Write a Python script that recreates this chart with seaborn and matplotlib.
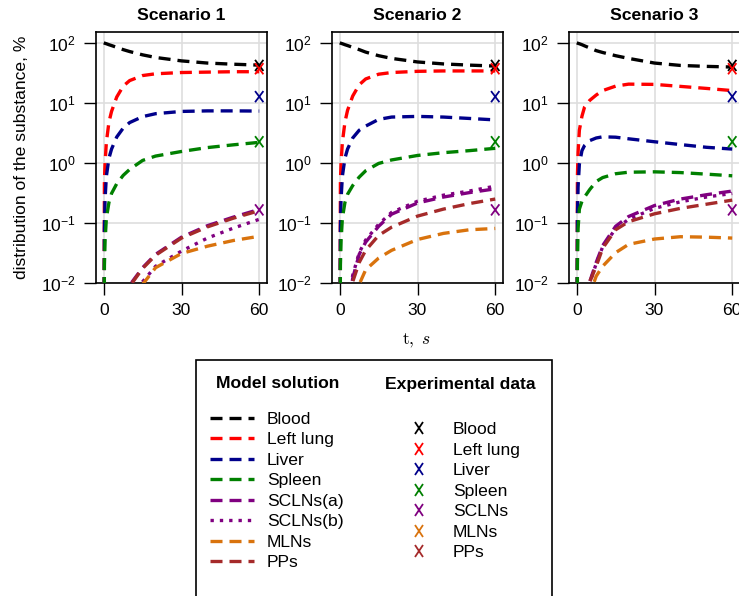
# Biodistribution of the substance: model vs experiment, three scenarios
# =====================================================================

import numpy as np
import pandas as pd
import seaborn as sns
import matplotlib.pyplot as plt
from matplotlib.lines import Line2D
from matplotlib.markers import MarkerStyle
from matplotlib.patches import Rectangle
from matplotlib.transforms import Affine2D
from matplotlib.ticker import FixedLocator, NullLocator


# =========================
# 1. Data
# =========================
SCENARIOS = ["Scenario 1", "Scenario 2", "Scenario 3"]
T = [0, 0.25, 0.5, 1, 2, 3, 5, 7.5, 10, 15, 20, 30, 40, 50, 60]

MODEL_ORGANS = ["Blood", "Left lung", "Liver", "Spleen",
                "SCLNs(a)", "SCLNs(b)", "MLNs", "PPs"]

# scenario 1
BLOOD_1 = [100, 99, 98, 96.5, 93, 90, 84, 77, 71.5, 63, 57, 50, 46, 44, 42.5]
LUNG_1 = [1e-4, 0.5, 1.0, 2.2, 4.8, 7.2, 12.5, 19, 23.5, 28.5, 30.5, 32, 32.5, 33, 33]
LIVER_1 = [1e-4, 0.08, 0.25, 0.6, 1.2, 1.7, 2.7, 3.8, 4.7, 5.9, 6.6, 7.2, 7.35, 7.35, 7.3]
SPLEEN_1 = [1e-4, 0.02, 0.05, 0.12, 0.22, 0.31, 0.45, 0.62, 0.78, 1.1, 1.3, 1.55, 1.8, 2.0, 2.2]
SCLNA_1 = [1e-7, 1e-7, 1e-7, 1e-6, 1e-5, 5e-5, 3e-4, 0.0018, 0.0092, 0.018, 0.030, 0.058, 0.09, 0.125, 0.168]
SCLNB_1 = [1e-7, 1e-7, 1e-7, 1e-6, 1e-5, 5e-5, 2e-4, 0.001, 0.005, 0.0105, 0.019, 0.034, 0.056, 0.082, 0.115]
MLNS_1 = [1e-7, 1e-7, 1e-7, 1e-6, 1e-5, 5e-5, 2e-4, 0.0008, 0.004, 0.0095, 0.018, 0.031, 0.041, 0.051, 0.06]
PPS_1 = [1e-7, 1e-7, 1e-7, 1e-6, 1e-5, 5e-5, 3e-4, 0.002, 0.0088, 0.0175, 0.029, 0.056, 0.086, 0.12, 0.16]

# scenario 2
BLOOD_2 = [100, 99, 98, 96.5, 93, 90, 84, 77, 70, 61, 55, 48, 44.5, 42.5, 41]
LUNG_2 = [1e-4, 0.5, 1.0, 2.2, 4.8, 7.5, 13, 20, 25, 30, 32, 33.5, 34, 34, 34]
LIVER_2 = [1e-4, 0.08, 0.25, 0.6, 1.2, 1.7, 2.6, 3.5, 4.1, 5.3, 5.8, 5.95, 5.8, 5.5, 5.2]
SPLEEN_2 = [1e-4, 0.02, 0.05, 0.12, 0.22, 0.3, 0.42, 0.58, 0.74, 0.98, 1.12, 1.33, 1.48, 1.6, 1.75]
SCLNA_2 = [1e-7, 1e-7, 1e-7, 1e-6, 2e-4, 0.0035, 0.012, 0.03, 0.048, 0.088, 0.14, 0.215, 0.27, 0.32, 0.37]
SCLNB_2 = [1e-7, 1e-7, 1e-7, 1e-6, 2e-4, 0.004, 0.0135, 0.032, 0.052, 0.095, 0.15, 0.23, 0.29, 0.34, 0.41]
MLNS_2 = [1e-7, 1e-7, 1e-7, 1e-6, 5e-5, 0.001, 0.004, 0.0095, 0.0166, 0.026, 0.035, 0.053, 0.067, 0.077, 0.081]
PPS_2 = [1e-7, 1e-7, 1e-7, 1e-6, 1.5e-4, 0.003, 0.0105, 0.022, 0.035, 0.062, 0.085, 0.13, 0.17, 0.21, 0.25]

# scenario 3
BLOOD_3 = [100, 99, 98, 96.5, 93, 89, 82, 74, 69, 61, 55, 46, 42, 40.5, 39.5]
LUNG_3 = [1e-4, 0.6, 1.5, 3.5, 6, 8.5, 11, 13.5, 16, 19, 20.5, 20.3, 18.8, 17.4, 16]
LIVER_3 = [1e-4, 0.12, 0.4, 0.95, 1.6, 1.95, 2.35, 2.6, 2.72, 2.68, 2.52, 2.25, 2.02, 1.82, 1.7]
SPLEEN_3 = [1e-4, 0.02, 0.08, 0.17, 0.23, 0.27, 0.36, 0.49, 0.57, 0.66, 0.7, 0.71, 0.69, 0.65, 0.61]
SCLNA_3 = [1e-7, 1e-7, 1e-7, 1e-6, 1.5e-4, 0.003, 0.0105, 0.022, 0.042, 0.088, 0.128, 0.195, 0.25, 0.295, 0.34]
SCLNB_3 = [1e-7, 1e-7, 1e-7, 1e-6, 1.5e-4, 0.003, 0.01, 0.021, 0.04, 0.08, 0.115, 0.175, 0.225, 0.27, 0.31]
MLNS_3 = [1e-7, 1e-7, 1e-7, 1e-6, 5e-5, 0.002, 0.0065, 0.013, 0.019, 0.032, 0.044, 0.054, 0.059, 0.058, 0.056]
PPS_3 = [1e-7, 1e-7, 1e-7, 1e-6, 1.5e-4, 0.003, 0.0105, 0.019, 0.038, 0.077, 0.105, 0.142, 0.175, 0.205, 0.24]

# experimental points (t = 60 s), MLNs and PPs not shown on the axes
EXP_ORGANS = ["Blood", "Left lung", "Liver", "Spleen", "SCLNs", "MLNs", "PPs"]
EXP_T = 60
EXP_VALUES = [42, 37, 12.7, 2.25, 0.165, np.nan, np.nan]

Y_TICKS = [1e-2, 1e-1, 1e0, 1e1, 1e2]
X_TICKS = [0, 30, 60]


# =========================
# 2. Styles
# =========================
COLORS = {
    "Blood": "#000000", "Left lung": "#ff0000", "Liver": "#00008b",
    "Spleen": "#008000", "SCLNs(a)": "#800080", "SCLNs(b)": "#800080",
    "SCLNs": "#800080", "MLNs": "#d9730d", "PPs": "#a52a2a",
}
DASH = (3.6, 2.1)
DOT = (1.0, 1.8)
DASHES = {o: (DOT if o == "SCLNs(b)" else DASH) for o in MODEL_ORGANS}
LW = 2.4
FS = 12.6
XMARK = MarkerStyle("x", transform=Affine2D().scale(0.75, 1.0))


def build_frames():
    per_scen = [
        [BLOOD_1, LUNG_1, LIVER_1, SPLEEN_1, SCLNA_1, SCLNB_1, MLNS_1, PPS_1],
        [BLOOD_2, LUNG_2, LIVER_2, SPLEEN_2, SCLNA_2, SCLNB_2, MLNS_2, PPS_2],
        [BLOOD_3, LUNG_3, LIVER_3, SPLEEN_3, SCLNA_3, SCLNB_3, MLNS_3, PPS_3],
    ]
    rows = []
    for scen, series in zip(SCENARIOS, per_scen):
        for organ, vals in zip(MODEL_ORGANS, series):
            for t, v in zip(T, vals):
                rows.append({"scenario": scen, "organ": organ, "t": t, "value": v})
    model = pd.DataFrame(rows)
    exp = pd.DataFrame({"organ": EXP_ORGANS, "t": EXP_T, "value": EXP_VALUES}).dropna()
    return model, exp


# =========================
# 3. Plot
# =========================
def main():
    sns.set_theme(style="ticks")
    plt.rcParams["font.family"] = ["Liberation Sans", "DejaVu Sans"]
    plt.rcParams["mathtext.fontset"] = "custom"
    plt.rcParams["mathtext.rm"] = "Liberation Sans"
    plt.rcParams["mathtext.it"] = "Liberation Sans:italic"
    plt.rcParams["mathtext.bf"] = "Liberation Sans:bold"
    plt.rcParams["text.color"] = "black"
    plt.rcParams["axes.labelcolor"] = "black"
    plt.rcParams["axes.titlecolor"] = "black"

    model, exp = build_frames()

    W, H = 739, 596
    fig = plt.figure(figsize=(W / 100, H / 100), dpi=100)

    lefts = [96, 332, 569]
    for i, (scen, left) in enumerate(zip(SCENARIOS, lefts)):
        ax = fig.add_axes([left / W, (H - 283) / H, 171 / W, 251 / H])
        ax.set_yscale("log")
        sns.lineplot(data=model[model["scenario"] == scen], x="t", y="value",
                     hue="organ", style="organ", hue_order=MODEL_ORGANS,
                     style_order=MODEL_ORGANS, palette=COLORS, dashes=DASHES,
                     linewidth=LW, estimator=None, sort=False, legend=False,
                     ax=ax, zorder=3)
        sns.scatterplot(data=exp, x="t", y="value", hue="organ",
                        hue_order=EXP_ORGANS, palette=COLORS, marker=XMARK,
                        s=64, linewidth=1.3, legend=False, ax=ax, zorder=5,
                        clip_on=False)

        ax.set_xlim(-3, 63)
        ax.set_ylim(1e-2, 10 ** 2.18)
        ax.xaxis.set_major_locator(FixedLocator(X_TICKS))
        ax.yaxis.set_major_locator(FixedLocator(Y_TICKS))
        ax.yaxis.set_minor_locator(NullLocator())
        ax.grid(True, color="#dedede", lw=1.2)
        ax.set_axisbelow(True)
        ax.tick_params(direction="out", length=8.5, width=1.0, pad=6,
                       labelsize=FS, colors="black")
        for sp in ax.spines.values():
            sp.set_linewidth(1.2)
            sp.set_color("black")
            sp.set_visible(True)
        ax.set_title(scen, fontsize=FS, fontweight="bold", pad=9)
        ax.set_xlabel("")
        ax.set_ylabel("")
        if i == 0:
            ax.set_ylabel("distribution of the substance, %", fontsize=FS)
            ax.yaxis.set_label_coords((29 - 96) / 171, 0.5)

    fig.text(417 / W, 1 - 341 / H, r"$\mathrm{t},\ s$", ha="center",
             va="center", fontsize=FS, math_fontfamily="cm")

    # legend box
    fig.add_artist(Rectangle((196 / W, 1 - 620 / H), 356 / W, 260 / H,
                             transform=fig.transFigure, fill=False,
                             ec="black", lw=1.2))

    fig.text(278 / W, 1 - 384 / H, "Model solution", ha="center",
             va="center", fontsize=FS, fontweight="bold")
    fig.text(460 / W, 1 - 384 / H, "Experimental data", ha="center",
             va="center", fontsize=FS, fontweight="bold")

    h1 = [Line2D([], [], color=COLORS[o], lw=LW, dashes=DASHES[o])
          for o in MODEL_ORGANS]
    fig.legend(h1, MODEL_ORGANS, loc="center left",
               bbox_to_anchor=(210 / W, 1 - 491 / H), frameon=False,
               fontsize=FS, handlelength=2.5, handletextpad=0.74,
               labelspacing=0.30, borderpad=0, borderaxespad=0)

    h2 = [Line2D([], [], ls="none", marker=XMARK, ms=8, mew=1.3,
                 color=COLORS[o]) for o in EXP_ORGANS]
    fig.legend(h2, EXP_ORGANS, loc="center left",
               bbox_to_anchor=(397 / W, 1 - 491 / H), frameon=False,
               fontsize=FS, handlelength=2.5, handletextpad=0.7,
               labelspacing=0.30, borderpad=0, borderaxespad=0)

    fig.savefig("out.png", dpi=100)


if __name__ == "__main__":
    main()
